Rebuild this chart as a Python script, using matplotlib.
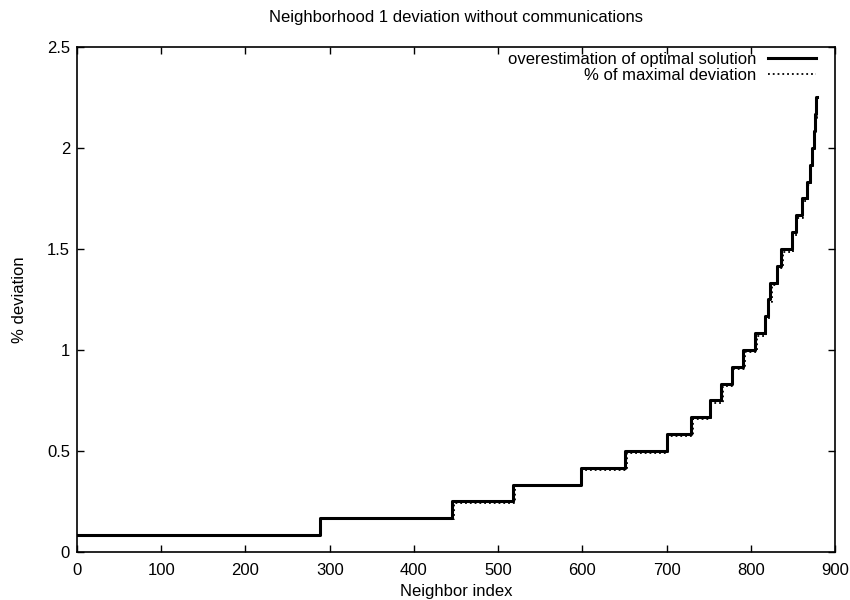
import matplotlib
matplotlib.use('Agg')
import matplotlib.pyplot as plt
from matplotlib.ticker import FormatStrFormatter, MultipleLocator

plt.rcParams['font.family'] = ['Liberation Sans', 'DejaVu Sans']

# step breakpoints (neighbor index) and levels (% deviation)
opt_x = [0, 289, 445, 518, 598, 651, 700, 729, 751, 765, 777, 791, 805, 817,
         820, 823, 831, 836, 849, 853, 860, 867, 870, 873, 875, 876, 877, 878]
opt_y = [0.0833, 0.1667, 0.25, 0.3333, 0.4167, 0.5, 0.5833, 0.6667, 0.75,
         0.8333, 0.9167, 1.0, 1.0833, 1.1667, 1.25, 1.3333, 1.4167, 1.5,
         1.5833, 1.6667, 1.75, 1.8333, 1.9167, 2.0, 2.0833, 2.1667, 2.25, 2.25]

max_x = [0, 290, 447, 520, 600, 653, 702, 731, 753, 767, 779, 793, 807, 818,
         821, 825, 832, 838, 850, 855, 862, 868, 871, 874, 876, 877, 878, 878]
max_y = [0.080, 0.162, 0.244, 0.326, 0.408, 0.491, 0.573, 0.656, 0.739,
         0.822, 0.905, 0.988, 1.071, 1.154, 1.237, 1.32, 1.403, 1.486,
         1.569, 1.652, 1.735, 1.818, 1.901, 1.984, 2.067, 2.15, 2.233, 2.233]

fig = plt.figure(figsize=(8.5, 6), dpi=100)
ax = fig.add_axes([0.0906, 0.08, 0.892, 0.842])

ax.plot(opt_x, opt_y, color='black', linewidth=2.2, drawstyle='steps-post',
        label='overestimation of optimal solution')
ax.plot(max_x, max_y, color='black', linewidth=1.3, linestyle=':', drawstyle='steps-post',
        label='% of maximal deviation')

ax.set_xlim(0, 900)
ax.set_ylim(0, 2.5)
ax.xaxis.set_major_locator(MultipleLocator(100))
ax.yaxis.set_major_locator(MultipleLocator(0.5))
ax.yaxis.set_major_formatter(FormatStrFormatter('%g'))
ax.tick_params(direction='in', top=True, right=True, length=5, width=1, labelsize=12)
ax.tick_params(axis='x', pad=8)
ax.tick_params(axis='y', pad=5)
for s in ax.spines.values():
    s.set_linewidth(1.2)

ax.set_xlabel('Neighbor index', fontsize=12, labelpad=4)
ax.set_ylabel('% deviation', fontsize=12, labelpad=14)
ax.set_title('Neighborhood 1 deviation without communications', fontsize=12, pad=18)

ax.legend(loc='upper right', bbox_to_anchor=(0.975, 0.99), frameon=False, markerfirst=False,
          fontsize=12, handlelength=2.9, handletextpad=0.7, labelspacing=0.05,
          borderpad=0, borderaxespad=0)

plt.savefig('out.png', dpi=100)
